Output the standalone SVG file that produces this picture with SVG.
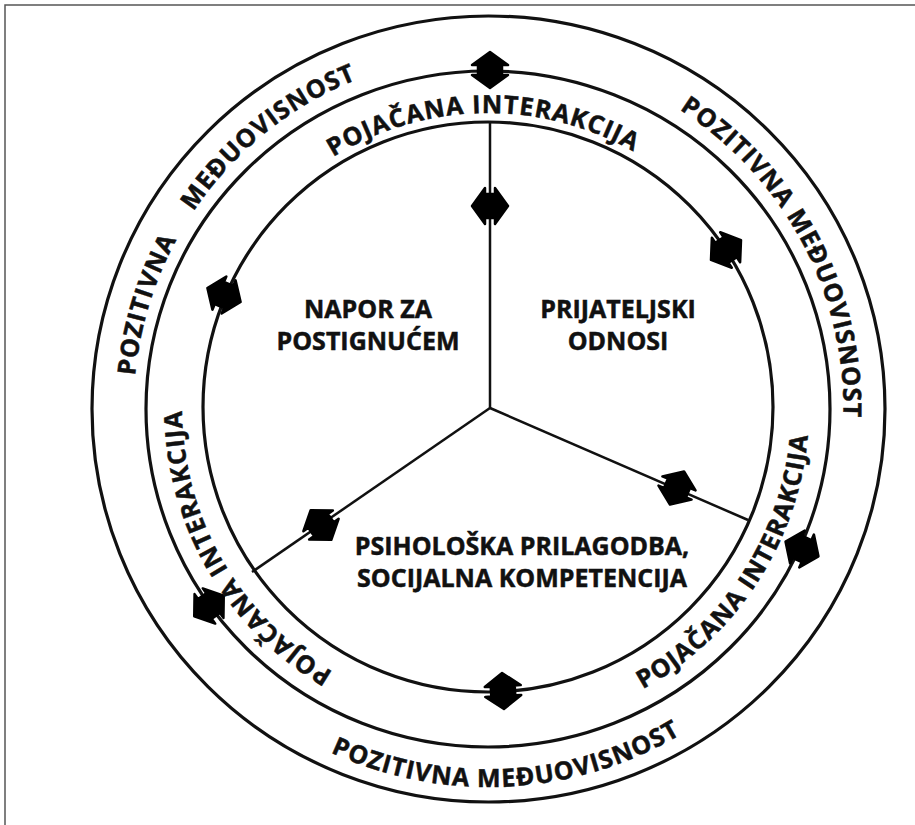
<svg xmlns="http://www.w3.org/2000/svg" xmlns:xlink="http://www.w3.org/1999/xlink" width="915" height="825" viewBox="0 0 915 825">
<style>
.ring{fill:none;stroke:#111;stroke-width:3.2}
.spoke{fill:none;stroke:#111;stroke-width:2.5}
.t{font-family:"Open Sans","Liberation Sans",sans-serif;font-weight:bold;font-size:25px;fill:#111;stroke:#111;stroke-width:0.5}
.arc{font-family:"Open Sans","Liberation Sans",sans-serif;font-weight:bold;font-size:25px;fill:#111;stroke:#111;stroke-width:0.5;letter-spacing:1px}
.mk{fill:#000;stroke:#000;stroke-width:2.5;stroke-linejoin:round}
</style>
<defs>
<path id="dbl" d="M0,-18 L18,-5 L12,-5 L12,5 L18,5 L0,18 L-18,5 L-12,5 L-12,-5 L-18,-5 Z"/>
<path id="pOutTL" d="M181.1,586.5 A355,355 0 0 1 609.9,75.4"/>
<path id="pOutTR" d="M562.3,61.8 A355,355 0 0 1 817.7,542.0"/>
<path id="pOutB" d="M212.0,666.8 A378,378 0 0 0 790.4,636.5"/>
<path id="pInT" d="M258.8,222.4 A295,295 0 0 1 710.6,214.5"/>
<path id="pInL" d="M434.6,709.3 A306,306 0 0 1 200.5,303.3"/>
<path id="pInR" d="M527.1,726.6 A321,321 0 0 0 795,314.1"/>
</defs>
<g id="frame"><path d="M5,825 V5 H915" fill="none" stroke="#555" stroke-width="1.5"/></g>
<g id="rings">
<ellipse class="ring" cx="488.5" cy="409" rx="396.5" ry="393"/>
<ellipse class="ring" cx="488" cy="409" rx="342" ry="338"/>
<circle class="ring" cx="488" cy="407" r="285"/>
</g>
<g id="connectors">
<path class="spoke" d="M490,122 L490,408"/>
<path class="spoke" d="M490,408 L252,572"/>
<path class="spoke" d="M490,408 L748,520"/>
</g>
<g id="markers">
<use href="#dbl" class="mk" transform="translate(490,70)"/>
<use href="#dbl" class="mk" transform="translate(490,206) rotate(90)"/>
<use href="#dbl" class="mk" transform="translate(726,250) rotate(56.5)"/>
<use href="#dbl" class="mk" transform="translate(224,295) rotate(292.7)"/>
<use href="#dbl" class="mk" transform="translate(677,488) rotate(23)"/>
<use href="#dbl" class="mk" transform="translate(802,549) rotate(114)"/>
<use href="#dbl" class="mk" transform="translate(321,525) rotate(145)"/>
<use href="#dbl" class="mk" transform="translate(209,606) rotate(235)"/>
<use href="#dbl" class="mk" transform="translate(503,691) rotate(177)"/>
</g>
<g id="outer-ring-labels">
<text class="arc" text-anchor="middle"><textPath href="#pOutTL" startOffset="291">POZITIVNA</textPath></text>
<text class="arc" text-anchor="middle"><textPath href="#pOutTL" startOffset="502">MEĐUOVISNOST</textPath></text>
<text class="arc" text-anchor="middle"><textPath href="#pOutTR" startOffset="50%">POZITIVNA MEĐUOVISNOST</textPath></text>
<text class="arc" text-anchor="middle"><textPath href="#pOutB" startOffset="50%">POZITIVNA MEĐUOVISNOST</textPath></text>
</g>
<g id="inner-ring-labels">
<text class="arc" text-anchor="middle"><textPath href="#pInT" startOffset="50%">POJAČANA INTERAKCIJA</textPath></text>
<text class="arc" text-anchor="middle"><textPath href="#pInL" startOffset="50%">POJAČANA INTERAKCIJA</textPath></text>
<text class="arc" text-anchor="middle"><textPath href="#pInR" startOffset="50%">POJAČANA INTERAKCIJA</textPath></text>
</g>
<g id="node-napor">
<text class="t" x="368" y="318" text-anchor="middle">NAPOR ZA</text>
<text class="t" x="368" y="350" text-anchor="middle">POSTIGNUĆEM</text>
</g>
<g id="node-prijateljski">
<text class="t" x="618" y="318" text-anchor="middle">PRIJATELJSKI</text>
<text class="t" x="618" y="350" text-anchor="middle">ODNOSI</text>
</g>
<g id="node-psiholoska">
<text class="t" x="522" y="555" text-anchor="middle">PSIHOLOŠKA PRILAGODBA,</text>
<text class="t" x="522" y="587" text-anchor="middle">SOCIJALNA KOMPETENCIJA</text>
</g>
</svg>
